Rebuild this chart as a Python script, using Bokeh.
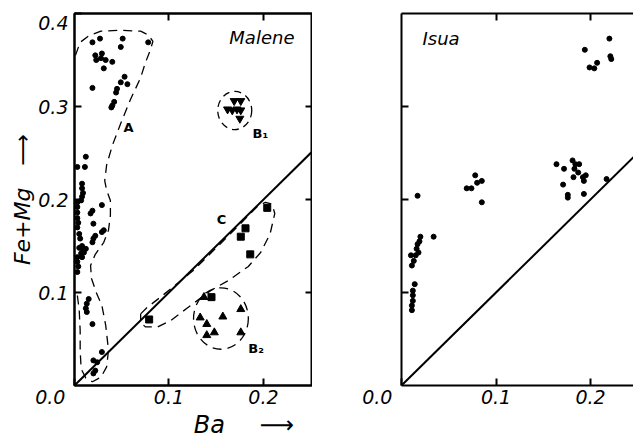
from bokeh.plotting import figure
from bokeh.models import Range1d, LinearAxis, FixedTicker, Label
from bokeh.layouts import row
from bokeh.embed import file_html
from bokeh.resources import INLINE

# ---------------- data ----------------
# Malene, group A (circles)
mal_circ_x = [0.019, 0.027, 0.051, 0.049, 0.078, 0.022, 0.028, 0.029, 0.023, 0.033, 0.040, 0.031,
              0.019, 0.053, 0.049, 0.056, 0.045, 0.044, 0.042, 0.040, 0.039,
              0.012, 0.003, 0.011, 0.008, 0.008, 0.009, 0.008, 0.007, 0.003, 0.003,
              0.029, 0.019, 0.017, 0.003, 0.003, 0.004, 0.003,
              0.020, 0.031, 0.029, 0.022, 0.020, 0.019, 0.005, 0.006,
              0.008, 0.009, 0.007, 0.008, 0.012, 0.010, 0.005,
              0.003, 0.003, 0.004, 0.003,
              0.015, 0.013, 0.012, 0.013, 0.019,
              0.029, 0.020, 0.024, 0.022, 0.020]
mal_circ_y = [0.369, 0.373, 0.373, 0.364, 0.369, 0.355, 0.352, 0.357, 0.350, 0.350, 0.348, 0.341,
              0.320, 0.332, 0.326, 0.324, 0.319, 0.315, 0.305, 0.301, 0.299,
              0.246, 0.235, 0.235, 0.217, 0.212, 0.207, 0.203, 0.199, 0.197, 0.192,
              0.194, 0.188, 0.185, 0.186, 0.180, 0.175, 0.170,
              0.174, 0.167, 0.165, 0.161, 0.158, 0.154, 0.163, 0.158,
              0.150, 0.146, 0.142, 0.138, 0.147, 0.143, 0.148,
              0.138, 0.133, 0.128, 0.122,
              0.093, 0.088, 0.083, 0.079, 0.066,
              0.036, 0.027, 0.025, 0.016, 0.013]
# Malene, group B1 (inverted triangles)
b1_x = [0.169, 0.176, 0.162, 0.167, 0.172, 0.176, 0.175]
b1_y = [0.306, 0.306, 0.297, 0.296, 0.297, 0.296, 0.287]
# Malene, group B2 (triangles)
b2_x = [0.133, 0.140, 0.157, 0.176, 0.140, 0.148, 0.176, 0.137]
b2_y = [0.073, 0.066, 0.074, 0.082, 0.054, 0.057, 0.057, 0.095]
# Malene, group C (squares)
c_x = [0.079, 0.145, 0.176, 0.181, 0.186, 0.204]
c_y = [0.071, 0.095, 0.160, 0.169, 0.141, 0.191]
# Isua (circles)
isu_x = [0.194, 0.220, 0.221, 0.222, 0.199, 0.204, 0.207,
         0.164, 0.172, 0.181, 0.184, 0.188, 0.183, 0.187, 0.182, 0.192, 0.193, 0.195,
         0.171, 0.176, 0.176, 0.193, 0.217,
         0.069, 0.074, 0.078, 0.080, 0.085, 0.085, 0.017,
         0.034, 0.020, 0.019, 0.017, 0.016, 0.018, 0.015, 0.010, 0.013, 0.011,
         0.014, 0.012, 0.012, 0.012, 0.011, 0.011]
isu_y = [0.361, 0.373, 0.354, 0.351, 0.342, 0.341, 0.347,
         0.238, 0.233, 0.242, 0.238, 0.238, 0.233, 0.229, 0.224, 0.224, 0.220, 0.226,
         0.216, 0.205, 0.202, 0.206, 0.222,
         0.212, 0.212, 0.226, 0.218, 0.220, 0.197, 0.204,
         0.160, 0.160, 0.155, 0.152, 0.147, 0.143, 0.140, 0.140, 0.134, 0.129,
         0.109, 0.102, 0.097, 0.091, 0.086, 0.081]

# reference line Fe+Mg = Ba
line_x = [0.0, 0.26]
line_y = [0.0, 0.26]

# dashed field outlines
a_x = [0.001, 0.006, 0.015, 0.028, 0.049, 0.070, 0.078, 0.083, 0.080, 0.075, 0.070, 0.059, 0.049,
       0.040, 0.034, 0.032, 0.034, 0.038, 0.038, 0.036, 0.031, 0.022, 0.017, 0.018, 0.023, 0.029,
       0.033, 0.036, 0.034, 0.028, 0.019, 0.012, 0.007, 0.006, 0.006, 0.005, 0.003]
a_y = [0.355, 0.369, 0.376, 0.381, 0.382, 0.381, 0.377, 0.370, 0.360, 0.347, 0.331, 0.307, 0.282,
       0.258, 0.237, 0.220, 0.210, 0.199, 0.183, 0.167, 0.154, 0.141, 0.129, 0.115, 0.100, 0.086,
       0.065, 0.038, 0.020, 0.009, 0.004, 0.008, 0.018, 0.038, 0.059, 0.081, 0.097]
c_out_x = [0.070, 0.077, 0.091, 0.126, 0.162, 0.193, 0.202, 0.209, 0.212, 0.207, 0.197, 0.184,
           0.163, 0.144, 0.119, 0.102, 0.088, 0.075, 0.070, 0.070]
c_out_y = [0.077, 0.084, 0.095, 0.124, 0.160, 0.192, 0.197, 0.195, 0.185, 0.163, 0.143, 0.128,
           0.113, 0.102, 0.083, 0.070, 0.063, 0.063, 0.068, 0.077]
b1_field = dict(x=0.1696, y=0.2957, w=0.036, h=0.041)
b2_field = dict(x=0.155, y=0.072, w=0.058, h=0.066)

x_ticks = [0.0, 0.1, 0.2]
x_tick_labels = {0.0: "0.0" + "\u2007" * 4, 0.1: "0.1", 0.2: "0.2"}
y_ticks = [0.1, 0.2, 0.3]
y_top_tick = 0.3999
y_top_label = "\n0.4"
x_title = "\u2003" * 4 + "\u2009Ba\u2003\u2005\u2009\u27f6"
y_title = "Fe+Mg\u2003\u27f6"

FONT = "DejaVu Sans"
Y0, Y1 = 0.0, 0.4
FIG_H = 442


def style_axis(ax, ticks, labels):
    ax.ticker = FixedTicker(ticks=ticks)
    ax.major_tick_in = 7
    ax.major_tick_out = 0
    ax.minor_tick_in = 0
    ax.minor_tick_out = 0
    ax.axis_line_width = 2
    ax.axis_line_color = "black"
    ax.major_tick_line_width = 2
    ax.major_tick_line_color = "black"
    if labels:
        ax.major_label_text_font = FONT
        ax.major_label_text_font_style = "italic"
        ax.major_label_text_font_size = "19px"
        ax.major_label_text_color = "black"
        ax.major_label_standoff = 6
    else:
        ax.major_label_text_font_size = "0px"
        ax.major_label_standoff = 0


def title_style(ax, size):
    ax.axis_label_text_font = FONT
    ax.axis_label_text_font_style = "italic"
    ax.axis_label_text_font_size = size
    ax.axis_label_text_color = "black"
    ax.axis_label_standoff = 0


def make_fig(width, left_border, x_end, right_axis):
    p = figure(width=width, height=FIG_H, output_backend="svg", toolbar_location=None,
               x_range=Range1d(0, x_end), y_range=Range1d(Y0, Y1),
               min_border_left=left_border, min_border_right=0,
               min_border_top=13, min_border_bottom=57)
    p.grid.visible = False
    p.background_fill_color = "white"
    p.border_fill_color = "white"
    if right_axis:
        p.outline_line_color = "black"
        p.outline_line_width = 2
    else:
        p.outline_line_color = None
    bottom = p.below[0]
    left = p.left[0]
    style_axis(bottom, x_ticks, True)
    bottom.major_label_overrides = x_tick_labels
    bottom.major_label_standoff = 0
    style_axis(left, y_ticks, True)
    top = LinearAxis()
    style_axis(top, x_ticks[1:], False)
    p.add_layout(top, "above")
    if right_axis:
        r = LinearAxis()
        style_axis(r, y_ticks, False)
        p.add_layout(r, "right")
    p.line(line_x, line_y, line_color="black", line_width=2)
    return p, bottom, left


def txt(p, x, y, t, size, style="italic", align="center", base="middle"):
    p.add_layout(Label(x=x, y=y, text=t, text_font=FONT, text_font_style=style,
                       text_font_size=size, text_align=align, text_baseline=base,
                       text_color="black"))


# ---------------- Malene ----------------
p1, bottom1, left1 = make_fig(312, 74, 0.2519, True)
left1.ticker = FixedTicker(ticks=y_ticks + [y_top_tick])
left1.major_label_overrides = {y_top_tick: y_top_label}
left1.major_label_text_line_height = 0.5
left1.axis_label = y_title
title_style(left1, "22px")
bottom1.axis_label = x_title
title_style(bottom1, "24px")

p1.line(a_x, a_y, line_color="black", line_width=1.3, line_dash="9 6")
p1.line(c_out_x, c_out_y, line_color="black", line_width=1.3, line_dash="9 6")
p1.ellipse(x=[b1_field["x"]], y=[b1_field["y"]], width=b1_field["w"], height=b1_field["h"],
           fill_color=None, line_color="black", line_width=1.3, line_dash="7 5")
p1.ellipse(x=[b2_field["x"]], y=[b2_field["y"]], width=b2_field["w"], height=b2_field["h"],
           fill_color=None, line_color="black", line_width=1.3, line_dash="9 6")
p1.scatter(mal_circ_x, mal_circ_y, marker="circle", size=5, color="black")
p1.scatter(b1_x, b1_y, marker="inverted_triangle", size=8, color="black")
p1.scatter(b2_x, b2_y, marker="triangle", size=8, color="black")
p1.scatter(c_x, c_y, marker="square", size=7, color="black")

txt(p1, 0.2328, 0.3737, "Malene", "18px", align="right")
txt(p1, 0.0571, 0.2774, "A", "13px", style="bold")
txt(p1, 0.1884, 0.271, "B₁", "13px", style="bold", align="left")
txt(p1, 0.184, 0.040, "B₂", "13px", style="bold", align="left")
txt(p1, 0.1556, 0.1785, "C", "13px", style="bold")

# ---------------- Isua ----------------
p2, bottom2, left2 = make_fig(321, 89, 0.2455, False)
left2.major_label_text_font_size = "0px"
left2.major_label_standoff = 0
p2.scatter(isu_x, isu_y, marker="circle", size=5, color="black")
txt(p2, 0.0222, 0.3726, "Isua", "18px", align="left")

layout = row(p1, p2)
open("out.html", "w").write(file_html(layout, INLINE))
